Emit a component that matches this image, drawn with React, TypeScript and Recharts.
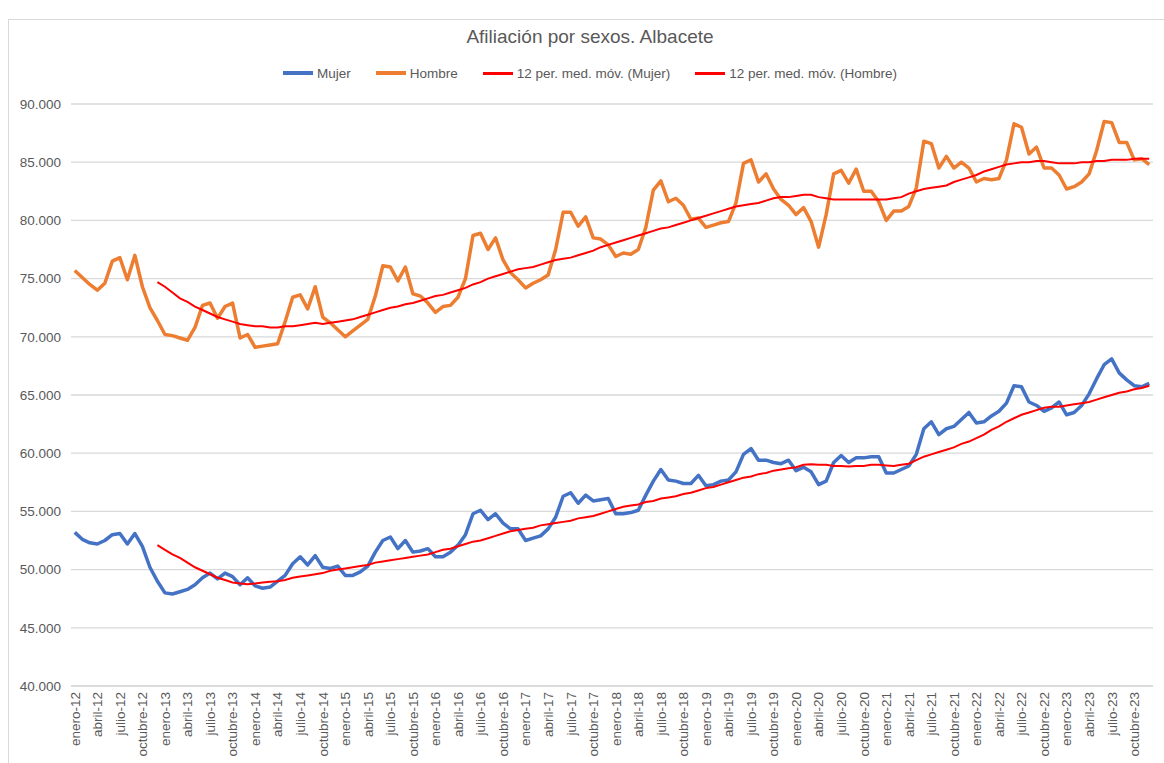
import { LineChart, Line, XAxis, YAxis, CartesianGrid } from "recharts";

const MONTHS = [
  "enero", "febrero", "marzo", "abril", "mayo", "junio",
  "julio", "agosto", "septiembre", "octubre", "noviembre", "diciembre",
];
const YEARS = ["12", "13", "14", "15", "16", "17", "18", "19", "20", "21", "22", "23"];

const Y_TICKS = [40000, 45000, 50000, 55000, 60000, 65000, 70000, 75000, 80000, 85000, 90000];

// afiliados por mes, ene-12 .. dic-23
const MUJER = [
  53200, 52600, 52300, 52200, 52500, 53000, 53100, 52200, 53100, 52000, 50200, 49000,
  48000, 47900, 48100, 48300, 48700, 49300, 49700, 49200, 49700, 49400, 48700, 49300,
  48600, 48400, 48500, 49000, 49500, 50500, 51100, 50400, 51200, 50200, 50100, 50300,
  49500, 49500, 49800, 50300, 51500, 52500, 52800, 51800, 52500, 51500, 51600, 51800,
  51100, 51100, 51500, 52100, 53000, 54800, 55100, 54300, 54800, 54000, 53500, 53500,
  52500, 52700, 52900, 53500, 54500, 56300, 56600, 55700, 56400, 55900, 56000, 56100,
  54800, 54800, 54900, 55100, 56400, 57600, 58600, 57700, 57600, 57400, 57400, 58100,
  57200, 57300, 57600, 57700, 58400, 59900, 60400, 59400, 59400, 59200, 59100, 59400,
  58500, 58800, 58400, 57300, 57600, 59200, 59800, 59200, 59600, 59600, 59700, 59700,
  58300, 58300, 58600, 58900, 59900, 62100, 62700, 61600, 62100, 62300, 62900, 63500,
  62600, 62700, 63200, 63600, 64300, 65800, 65700, 64400, 64100, 63600, 63900, 64400,
  63300, 63500, 64100, 65100, 66400, 67600, 68100, 66900, 66300, 65800, 65700, 66000,
];

const HOMBRE = [
  75700, 75100, 74500, 74000, 74600, 76500, 76800, 74900, 77000, 74300, 72500, 71400,
  70200, 70100, 69900, 69700, 70800, 72700, 72900, 71600, 72600, 72900, 69900, 70200,
  69100, 69200, 69300, 69400, 71300, 73400, 73600, 72400, 74300, 71700, 71200, 70600,
  70000, 70500, 71000, 71500, 73500, 76100, 76000, 74800, 76000, 73700, 73500, 72900,
  72100, 72600, 72700, 73400, 75000, 78700, 78900, 77500, 78500, 76600, 75500, 74900,
  74200, 74600, 74900, 75300, 77500, 80700, 80700, 79500, 80300, 78500, 78400, 77900,
  76900, 77200, 77100, 77500, 79400, 82600, 83400, 81600, 81900, 81300, 80100, 80200,
  79400, 79600, 79800, 79900, 81500, 84900, 85200, 83300, 84000, 82700, 81800, 81300,
  80500, 81100, 79900, 77700, 80500, 84000, 84300, 83200, 84400, 82500, 82500, 81600,
  80000, 80800, 80800, 81200, 82800, 86800, 86600, 84500, 85500, 84500, 85000, 84500,
  83300, 83600, 83500, 83600, 85200, 88300, 88000, 85700, 86300, 84500, 84500, 83900,
  82700, 82900, 83300, 84000, 86000, 88500, 88400, 86700, 86700, 85200, 85300, 84800,
];

// medias móviles de 12 periodos, desde dic-12
const MA_MUJER = [
  52100, 51700, 51300, 51000, 50600, 50200, 49900, 49600, 49300, 49100, 48900, 48800, 48750,
  48800, 48900, 48950, 49000, 49100, 49300, 49400, 49500, 49600, 49700, 49900, 50000,
  50100, 50200, 50300, 50400, 50600, 50700, 50800, 50900, 51000, 51100, 51200, 51300,
  51500, 51700, 51800, 52000, 52200, 52400, 52500, 52700, 52900, 53100, 53300, 53400,
  53500, 53600, 53800, 53900, 54000, 54100, 54200, 54400, 54500, 54600, 54800, 55000,
  55200, 55400, 55500, 55600, 55800, 55900, 56100, 56200, 56300, 56500, 56600, 56800,
  57000, 57100, 57300, 57500, 57700, 57900, 58000, 58200, 58300, 58500, 58600, 58700,
  58800, 59000, 59050, 59000, 59000, 58900, 58900, 58850, 58900, 58900, 59000, 59000,
  58950, 58900, 59000, 59100, 59400, 59700, 59900, 60100, 60300, 60500, 60800, 61000,
  61300, 61600, 62000, 62300, 62700, 63000, 63300, 63500, 63700, 63900, 64000, 64000,
  64100, 64200, 64300, 64400, 64600, 64800, 65000, 65200, 65300, 65500, 65600, 65800,
];

const MA_HOMBRE = [
  74700, 74300, 73800, 73300, 73000, 72600, 72300, 72000, 71700, 71500, 71300, 71100, 71000,
  70900, 70900, 70800, 70800, 70900, 70900, 71000, 71100, 71200, 71100, 71200, 71300,
  71400, 71500, 71700, 71900, 72100, 72300, 72500, 72600, 72800, 72900, 73100, 73300,
  73500, 73600, 73800, 74000, 74200, 74500, 74700, 75000, 75200, 75400, 75600, 75800,
  75900, 76000, 76200, 76400, 76600, 76700, 76800, 77000, 77200, 77400, 77700, 77900,
  78100, 78300, 78500, 78700, 78900, 79100, 79300, 79400, 79600, 79800, 80000, 80200,
  80400, 80600, 80800, 81000, 81200, 81300, 81400, 81500, 81700, 81900, 82000, 82000,
  82100, 82200, 82200, 82000, 81900, 81800, 81800, 81800, 81800, 81800, 81800, 81800,
  81800, 81900, 82000, 82300, 82500, 82700, 82800, 82900, 83000, 83300, 83500, 83700,
  83900, 84200, 84400, 84600, 84800, 84900, 85000, 85000, 85100, 85100, 85000, 84900,
  84900, 84900, 85000, 85000, 85100, 85100, 85200, 85200, 85200, 85300, 85300, 85300,
];

const MA_START = MUJER.length - MA_MUJER.length;

const LABELS = YEARS.flatMap((yy) => MONTHS.map((m) => `${m}-${yy}`));

const data = LABELS.map((label, i) => ({
  label,
  mujer: MUJER[i],
  hombre: HOMBRE[i],
  maMujer: i >= MA_START ? MA_MUJER[i - MA_START] : null,
  maHombre: i >= MA_START ? MA_HOMBRE[i - MA_START] : null,
}));

const FONT = "'Liberation Sans', Arial, sans-serif";
const TEXT = "#595959";
const GRID = "#d9d9d9";

const LEGEND = [
  { name: "Mujer", color: "#4472C4", h: 4 },
  { name: "Hombre", color: "#ED7D31", h: 4 },
  { name: "12 per. med. móv. (Mujer)", color: "#FF0000", h: 3 },
  { name: "12 per. med. móv. (Hombre)", color: "#FF0000", h: 3 },
];

const fmt = (v: number) => `${v / 1000}.000`;

const MonthTick = ({ x, y, payload }: any) => (
  <text
    x={x}
    y={y}
    transform={`rotate(-90 ${x} ${y})`}
    textAnchor="end"
    dy="0.36em"
    fill={TEXT}
    fontSize={13.5}
    fontFamily={FONT}
  >
    {payload.value}
  </text>
);

export default function App() {
  return (
    <div
      style={{
        position: "absolute", left: 0, top: 0, width: 1164, height: 763,
        background: "#fff", overflow: "hidden", fontFamily: FONT,
      }}
    >
      <div
        style={{
          position: "absolute", left: 8, top: 19, width: 1200, height: 800,
          borderLeft: `1px solid ${GRID}`, borderTop: `1px solid ${GRID}`,
        }}
      />

      <div
        style={{
          position: "absolute", left: 0, top: 24, width: 1180, textAlign: "center",
          fontSize: 19, lineHeight: "26px", color: TEXT,
        }}
      >
        Afiliación por sexos. Albacete
      </div>

      <div
        style={{
          position: "absolute", left: 0, top: 64, width: 1180, height: 18,
          display: "flex", justifyContent: "center", alignItems: "center", gap: 25,
          fontSize: 13.5, color: TEXT,
        }}
      >
        {LEGEND.map((l) => (
          <div key={l.name} style={{ display: "flex", alignItems: "center" }}>
            <span style={{ width: 30, height: l.h, background: l.color, marginRight: 4 }} />
            <span>{l.name}</span>
          </div>
        ))}
      </div>

      <div style={{ position: "absolute", left: 0, top: 0 }}>
        <LineChart
          width={1164}
          height={763}
          data={data}
          margin={{ top: 104, right: 11, bottom: 7, left: 11 }}
        >
          <CartesianGrid vertical={false} stroke={GRID} strokeWidth={1.3} />
          <XAxis
            dataKey="label"
            interval={2}
            tickLine={false}
            axisLine={{ stroke: GRID, strokeWidth: 1.3 }}
            padding={{ left: 3.76, right: 3.76 }}
            height={70}
            tickSize={0}
            tickMargin={6}
            tick={<MonthTick />}
          />
          <YAxis
            domain={[40000, 90000]}
            ticks={Y_TICKS}
            tickFormatter={fmt}
            axisLine={false}
            tickLine={false}
            tickSize={0}
            tickMargin={10}
            width={60}
            tick={{ fill: TEXT, fontSize: 13.5, fontFamily: FONT }}
          />
          <Line
            dataKey="mujer"
            stroke="#4472C4"
            strokeWidth={3.5}
            dot={false}
            isAnimationActive={false}
            strokeLinejoin="round"
          />
          <Line
            dataKey="hombre"
            stroke="#ED7D31"
            strokeWidth={3.5}
            dot={false}
            isAnimationActive={false}
            strokeLinejoin="round"
          />
          <Line
            dataKey="maMujer"
            stroke="#FF0000"
            strokeWidth={2}
            dot={false}
            isAnimationActive={false}
          />
          <Line
            dataKey="maHombre"
            stroke="#FF0000"
            strokeWidth={2}
            dot={false}
            isAnimationActive={false}
          />
        </LineChart>
      </div>
    </div>
  );
}
